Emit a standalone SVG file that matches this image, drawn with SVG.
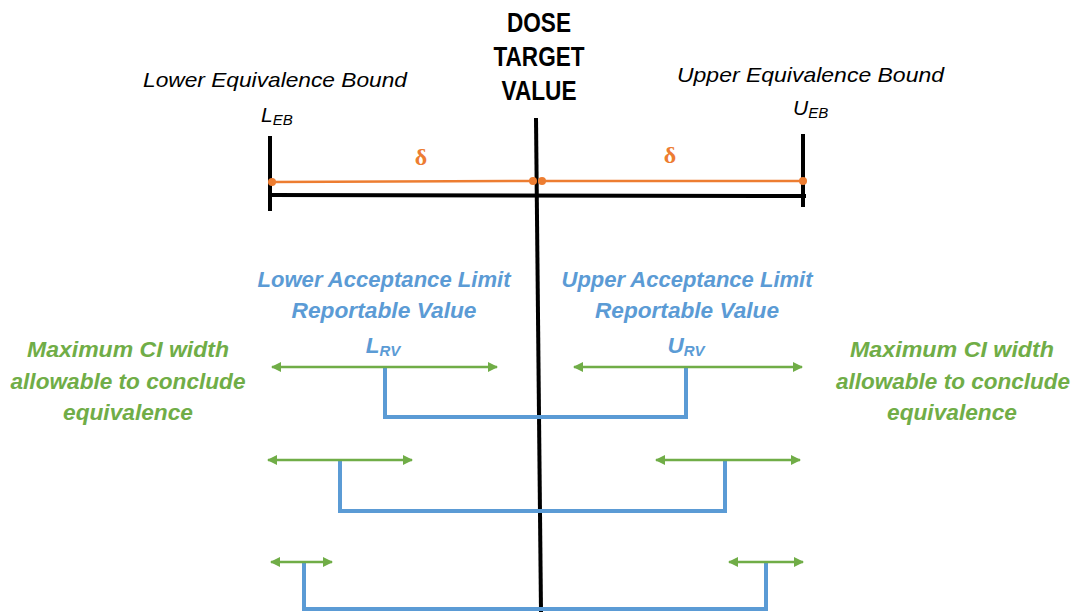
<svg xmlns="http://www.w3.org/2000/svg" width="1073" height="612" viewBox="0 0 1073 612">
<defs>
<marker id="ah" markerUnits="userSpaceOnUse" markerWidth="10" markerHeight="10" viewBox="0 0 10 10" refX="9" refY="5" orient="auto-start-reverse">
<path d="M0,0 L10,5 L0,10 Z" fill="#70AD47"/>
</marker>
<style>
.blk{stroke:#000;stroke-width:4;fill:none}
.org{stroke:#ED7D31;stroke-width:2.5;fill:none}
.dot{fill:#ED7D31}
.blu{stroke:#5B9BD5;stroke-width:4;fill:none}
.grn{stroke:#70AD47;stroke-width:2.5;fill:none;marker-start:url(#ah);marker-end:url(#ah)}
.ttl{font-family:"Liberation Sans",Arial,sans-serif;font-weight:bold;font-size:27px;fill:#000;text-anchor:middle}
.it{font-family:"Liberation Sans",Arial,sans-serif;font-style:italic;font-size:21px;fill:#000}
.bt{font-family:"Liberation Sans",Arial,sans-serif;font-style:italic;font-weight:bold;font-size:22.5px;fill:#5B9BD5;text-anchor:middle}
.gt{font-family:"Liberation Sans",Arial,sans-serif;font-style:italic;font-weight:bold;font-size:22.5px;fill:#70AD47;text-anchor:middle}
.dl{font-family:"Liberation Serif","Times New Roman",serif;font-weight:bold;font-size:24px;fill:#ED7D31;text-anchor:middle}
</style>
</defs>
<g id="axis">
<line class="blk" x1="536" y1="118" x2="541" y2="612"/>
<line class="blk" x1="270" y1="136" x2="270" y2="211"/>
<line class="blk" x1="803" y1="134" x2="803" y2="207"/>
<line class="blk" x1="270" y1="195" x2="806" y2="196"/>
</g>
<g id="title">
<text class="ttl" x="539" y="32" textLength="64" lengthAdjust="spacingAndGlyphs">DOSE</text>
<text class="ttl" x="539" y="66" textLength="91" lengthAdjust="spacingAndGlyphs">TARGET</text>
<text class="ttl" x="539" y="100" textLength="75" lengthAdjust="spacingAndGlyphs">VALUE</text>
</g>
<g id="lower-bound">
<text class="it" x="143" y="87" textLength="264" lengthAdjust="spacingAndGlyphs">Lower Equivalence Bound</text>
<text class="it" x="261" y="122">L<tspan font-size="15" dy="3">EB</tspan></text>
</g>
<g id="upper-bound">
<text class="it" x="677" y="82" textLength="267" lengthAdjust="spacingAndGlyphs">Upper Equivalence Bound</text>
<text class="it" x="793" y="115">U<tspan font-size="15" dy="3">EB</tspan></text>
</g>
<g id="delta">
<line class="org" x1="272" y1="182" x2="533" y2="181"/>
<line class="org" x1="542" y1="181" x2="803" y2="181"/>
<circle class="dot" cx="272" cy="182" r="4"/>
<circle class="dot" cx="533" cy="181" r="4"/>
<circle class="dot" cx="542" cy="181" r="4"/>
<circle class="dot" cx="803" cy="181" r="4"/>
<text class="dl" x="421" y="165">δ</text>
<text class="dl" x="670" y="163">δ</text>
</g>
<g id="lower-acceptance">
<text class="bt" x="384" y="287" textLength="253" lengthAdjust="spacingAndGlyphs">Lower Acceptance Limit</text>
<text class="bt" x="384" y="318" textLength="185" lengthAdjust="spacingAndGlyphs">Reportable Value</text>
<text class="bt" x="383" y="353">L<tspan font-size="15" dy="3">RV</tspan></text>
</g>
<g id="upper-acceptance">
<text class="bt" x="687" y="287" textLength="251" lengthAdjust="spacingAndGlyphs">Upper Acceptance Limit</text>
<text class="bt" x="687" y="318" textLength="184" lengthAdjust="spacingAndGlyphs">Reportable Value</text>
<text class="bt" x="686" y="353">U<tspan font-size="15" dy="3">RV</tspan></text>
</g>
<g id="ci-left">
<text class="gt" x="128" y="357" textLength="202" lengthAdjust="spacingAndGlyphs">Maximum CI width</text>
<text class="gt" x="128" y="389" textLength="235" lengthAdjust="spacingAndGlyphs">allowable to conclude</text>
<text class="gt" x="128" y="420" textLength="130" lengthAdjust="spacingAndGlyphs">equivalence</text>
</g>
<g id="ci-right">
<text class="gt" x="952" y="357" textLength="204" lengthAdjust="spacingAndGlyphs">Maximum CI width</text>
<text class="gt" x="953" y="389" textLength="234" lengthAdjust="spacingAndGlyphs">allowable to conclude</text>
<text class="gt" x="952" y="420" textLength="130" lengthAdjust="spacingAndGlyphs">equivalence</text>
</g>
<g id="connectors">
<polyline class="blu" points="385,367 385,417 686,417 686,367"/>
<polyline class="blu" points="340,460 340,511 725,511 725,460"/>
<polyline class="blu" points="304,562 304,609 766,609 766,562"/>
<line class="grn" x1="272" y1="367" x2="497" y2="367"/>
<line class="grn" x1="574" y1="367" x2="802" y2="367"/>
<line class="grn" x1="268" y1="460" x2="412" y2="460"/>
<line class="grn" x1="656" y1="460" x2="800" y2="460"/>
<line class="grn" x1="271" y1="562" x2="332" y2="562"/>
<line class="grn" x1="729" y1="562" x2="803" y2="562"/>
</g>
</svg>
